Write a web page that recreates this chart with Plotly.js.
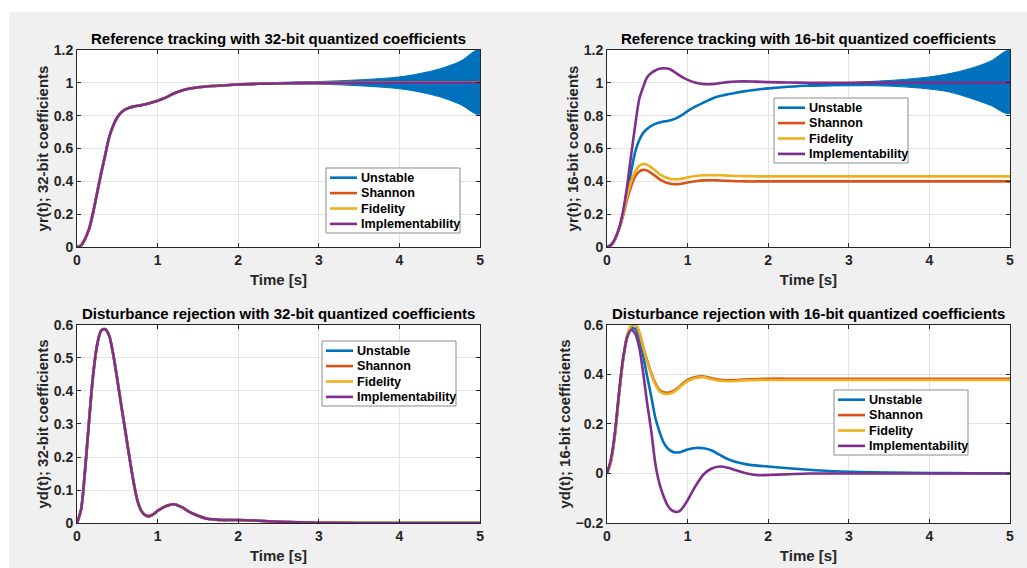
<!DOCTYPE html>
<html>
<head>
<meta charset="utf-8">
<script src="https://cdn.plot.ly/plotly-3.0.1.min.js"></script>
<style>
  html, body { margin:0; padding:0; background:#ffffff; width:1027px; height:568px; overflow:hidden; }
  #fig { position:absolute; left:9px; top:12px; width:1018px; height:556px; background:#f0f0f0; }
</style>
</head>
<body>
<div id="fig"></div>
<script>
// ---------- shared time grid (s) ----------
const t = [0,0.05,0.1,0.15,0.2,0.25,0.3,0.35,0.4,0.45,0.5,0.55,0.6,0.65,0.7,0.75,0.8,0.85,0.9,0.95,1.0,1.1,1.2,1.3,1.4,1.5,1.6,1.7,1.8,1.9,2.0,2.25,2.5,2.75,3,3.5,4,4.5,5];

// ---------- reference tracking, 32-bit ----------
const yr32_all = [0,0.01,0.05,0.11,0.21,0.33,0.45,0.56,0.67,0.74,0.79,0.82,0.838,0.848,0.855,0.86,0.864,0.869,0.876,0.883,0.891,0.91,0.935,0.953,0.965,0.973,0.978,0.981,0.984,0.987,0.99,0.994,0.996,0.998,0.999,1,1,1,1];
const yr32_unstable = yr32_all;
const yr32_shannon = yr32_all;
const yr32_fidelity = yr32_all;
const yr32_impl = yr32_all;

// ---------- reference tracking, 16-bit ----------
const yr16_unstable = [0,0.012,0.05,0.11,0.2,0.32,0.46,0.58,0.65,0.695,0.72,0.738,0.75,0.758,0.764,0.768,0.774,0.782,0.795,0.81,0.828,0.856,0.88,0.903,0.919,0.93,0.94,0.948,0.955,0.961,0.966,0.976,0.984,0.989,0.992,0.997,0.999,1,1];
const yr16_shannon = [0,0.012,0.05,0.11,0.19,0.29,0.37,0.43,0.46,0.47,0.465,0.45,0.432,0.414,0.4,0.39,0.384,0.382,0.384,0.388,0.393,0.401,0.406,0.407,0.405,0.403,0.401,0.4,0.399,0.4,0.4,0.4,0.4,0.4,0.4,0.4,0.4,0.4,0.4];
const yr16_fidelity = [0,0.012,0.05,0.11,0.2,0.31,0.4,0.46,0.495,0.506,0.5,0.485,0.465,0.445,0.43,0.42,0.414,0.412,0.414,0.418,0.424,0.432,0.437,0.438,0.437,0.435,0.433,0.432,0.431,0.43,0.43,0.43,0.43,0.43,0.43,0.43,0.43,0.43,0.43];
const yr16_impl = [0,0.012,0.05,0.115,0.22,0.37,0.56,0.74,0.9,0.975,1.035,1.06,1.075,1.085,1.089,1.087,1.078,1.062,1.045,1.03,1.018,1.0,0.992,0.992,0.998,1.004,1.008,1.009,1.008,1.006,1.004,1.002,1.0,1.0,1,1,1,1,1];

// ---------- envelope of the growing oscillation of the Unstable response ----------
const envT = [2.5,3,3.5,4,4.25,4.5,4.75,5];
const env32_upper = [1.003,1.008,1.018,1.036,1.056,1.085,1.13,1.2];
const env32_lower = [0.997,0.992,0.982,0.964,0.944,0.915,0.87,0.81];
const env16_upper = [0.99,1.002,1.014,1.036,1.056,1.086,1.13,1.195];
const env16_lower = [0.978,0.982,0.98,0.962,0.944,0.908,0.865,0.815];

// ---------- disturbance rejection, 32-bit ----------
const yd32_all = [0,0.04,0.16,0.31,0.448,0.54,0.583,0.587,0.567,0.51,0.435,0.355,0.278,0.2,0.127,0.068,0.036,0.023,0.021,0.027,0.037,0.051,0.057,0.048,0.033,0.022,0.014,0.011,0.009,0.009,0.009,0.007,0.004,0.002,0.001,0,0,0,0];
const yd32_unstable = yd32_all;
const yd32_shannon = yd32_all;
const yd32_fidelity = yd32_all;
const yd32_impl = yd32_all;

// ---------- disturbance rejection, 16-bit ----------
const yd16_unstable = [0,0.05,0.16,0.32,0.46,0.55,0.585,0.585,0.55,0.475,0.39,0.31,0.225,0.17,0.127,0.103,0.09,0.085,0.086,0.091,0.097,0.103,0.102,0.093,0.075,0.058,0.046,0.039,0.034,0.031,0.028,0.021,0.015,0.01,0.007,0.004,0.002,0.001,0];
const yd16_shannon = [0,0.05,0.16,0.32,0.46,0.555,0.595,0.603,0.57,0.51,0.455,0.405,0.365,0.338,0.328,0.326,0.33,0.338,0.352,0.367,0.378,0.39,0.392,0.385,0.379,0.377,0.378,0.38,0.381,0.382,0.383,0.383,0.383,0.383,0.383,0.383,0.383,0.383,0.383];
const yd16_fidelity = [0,0.05,0.16,0.32,0.46,0.556,0.598,0.606,0.572,0.508,0.451,0.4,0.36,0.333,0.323,0.321,0.325,0.334,0.348,0.362,0.373,0.386,0.389,0.381,0.375,0.373,0.374,0.376,0.377,0.378,0.378,0.378,0.378,0.378,0.378,0.378,0.378,0.378,0.378];
const yd16_impl = [0,0.06,0.17,0.33,0.466,0.55,0.58,0.565,0.51,0.405,0.28,0.17,0.04,-0.04,-0.09,-0.128,-0.148,-0.155,-0.152,-0.134,-0.108,-0.05,-0.003,0.02,0.028,0.023,0.013,0.003,-0.004,-0.007,-0.006,-0.003,0,0,0,0,0,0,0];

const seriesNames = ['Unstable','Shannon','Fidelity','Implementability'];
const colors = ['#0072BD','#D95319','#EDB120','#7E2F8E'];

const FONT = 'Liberation Sans, Arial, Helvetica, sans-serif';
const TXT = '#262626';
const W = 1018, H = 556;

const panels = [
  {xa:'x', ya:'y', data:[yr32_unstable,yr32_shannon,yr32_fidelity,yr32_impl], env:[env32_upper,env32_lower], legPos:[317,156]},
  {xa:'x2', ya:'y2', data:[yr16_unstable,yr16_shannon,yr16_fidelity,yr16_impl], env:[env16_upper,env16_lower], legPos:[765,86]},
  {xa:'x3', ya:'y3', data:[yd32_unstable,yd32_shannon,yd32_fidelity,yd32_impl], env:null, legPos:[313,329]},
  {xa:'x4', ya:'y4', data:[yd16_unstable,yd16_shannon,yd16_fidelity,yd16_impl], env:null, legPos:[825,378]}
];

const traces = [];
panels.forEach(p => {
  if (p.env) {
    traces.push({
      x: envT.concat(envT.slice().reverse()),
      y: p.env[0].concat(p.env[1].slice().reverse()),
      xaxis: p.xa, yaxis: p.ya, mode:'lines', fill:'toself',
      fillcolor: colors[0], line:{color:colors[0], width:1, shape:'spline'},
      name: seriesNames[0] + ' (oscillation envelope)', showlegend:false, hoverinfo:'skip'
    });
  }
  p.data.forEach((d, i) => {
    traces.push({
      x: t, y: d, xaxis: p.xa, yaxis: p.ya, mode:'lines',
      name: seriesNames[i], showlegend:false,
      line: {color: colors[i], width: 2.6, shape:'spline', smoothing:0.8}
    });
  });
});

// ---------- legend boxes (MATLAB style), drawn as layout items ----------
const px = v => v / W, py = v => 1 - v / H;
const shapes = [], annotations = [];
const LW = 134, LH = 65;
panels.forEach(p => {
  const [lx, ly] = p.legPos;
  shapes.push({type:'rect', xref:'paper', yref:'paper', x0:px(lx), x1:px(lx+LW), y0:py(ly+LH), y1:py(ly),
    fillcolor:'#ffffff', line:{color:'#8c8c8c', width:1}, layer:'above'});
  seriesNames.forEach((nm, i) => {
    const yc = ly + 9.7 + i * 15.4;
    shapes.push({type:'line', xref:'paper', yref:'paper', x0:px(lx+4), x1:px(lx+31), y0:py(yc), y1:py(yc),
      line:{color:colors[i], width:2.6}, layer:'above'});
    annotations.push({text:nm, xref:'paper', yref:'paper', x:px(lx+33), y:py(yc), xanchor:'left', yanchor:'middle',
      showarrow:false, font:{family:FONT, size:12.6, color:'#000000', weight:700}});
  });
});

function xaxis(dom, anchor) {
  return {domain: dom, anchor: anchor, range:[0,5], dtick:1, tick0:0,
    showline:true, mirror:'allticks', linecolor:TXT, linewidth:1,
    ticks:'inside', ticklen:4, tickcolor:TXT,
    showgrid:true, gridcolor:'#e3e3e3', zeroline:false,
    tickfont:{family:FONT, size:14, color:TXT, weight:700},
    title:{text:'Time [s]', font:{family:FONT, size:15, color:TXT, weight:700}, standoff:7}};
}
function yaxis(dom, anchor, range, dtick, title) {
  return {domain: dom, anchor: anchor, range: range, dtick: dtick,
    showline:true, mirror:'allticks', linecolor:TXT, linewidth:1,
    ticks:'inside', ticklen:4, tickcolor:TXT,
    showgrid:true, gridcolor:'#e3e3e3', zeroline:false,
    tickfont:{family:FONT, size:14, color:TXT, weight:700},
    title:{text:title, font:{family:FONT, size:15, color:TXT, weight:700}, standoff:1}};
}

const dx1 = [0.0668, 0.4627], dx2 = [0.5874, 0.9833];
const dyT = [0.5773, 0.9317], dyB = [0.0809, 0.4371];

function subTitle(text, dom, ydom) {
  return {text:text, xref:'paper', yref:'paper', x:(dom[0]+dom[1])/2, y:ydom[1],
    xanchor:'center', yanchor:'bottom', yshift:1, showarrow:false,
    font:{family:FONT, size:15, color:'#000000', weight:700}};
}
annotations.push(
  subTitle('Reference tracking with 32-bit quantized coefficients', dx1, dyT),
  subTitle('Reference tracking with 16-bit quantized coefficients', dx2, dyT),
  subTitle('Disturbance rejection with 32-bit quantized coefficients', dx1, dyB),
  subTitle('Disturbance rejection with 16-bit quantized coefficients', dx2, dyB)
);

const layout = {
  width:W, height:H,
  paper_bgcolor:'#f0f0f0', plot_bgcolor:'#ffffff',
  margin:{l:0, r:0, t:0, b:0},
  showlegend:false,
  xaxis: xaxis(dx1,'y'), yaxis: yaxis(dyT,'x',[0,1.2],0.2,'yr(t); 32-bit coefficients'),
  xaxis2: xaxis(dx2,'y2'), yaxis2: yaxis(dyT,'x2',[0,1.2],0.2,'yr(t); 16-bit coefficients'),
  xaxis3: xaxis(dx1,'y3'), yaxis3: yaxis(dyB,'x3',[0,0.6],0.1,'yd(t); 32-bit coefficients'),
  xaxis4: xaxis(dx2,'y4'), yaxis4: yaxis(dyB,'x4',[-0.2,0.6],0.2,'yd(t); 16-bit coefficients'),
  shapes: shapes,
  annotations: annotations
};

Plotly.newPlot('fig', traces, layout, {staticPlot:true, displayModeBar:false});
</script>
</body>
</html>
